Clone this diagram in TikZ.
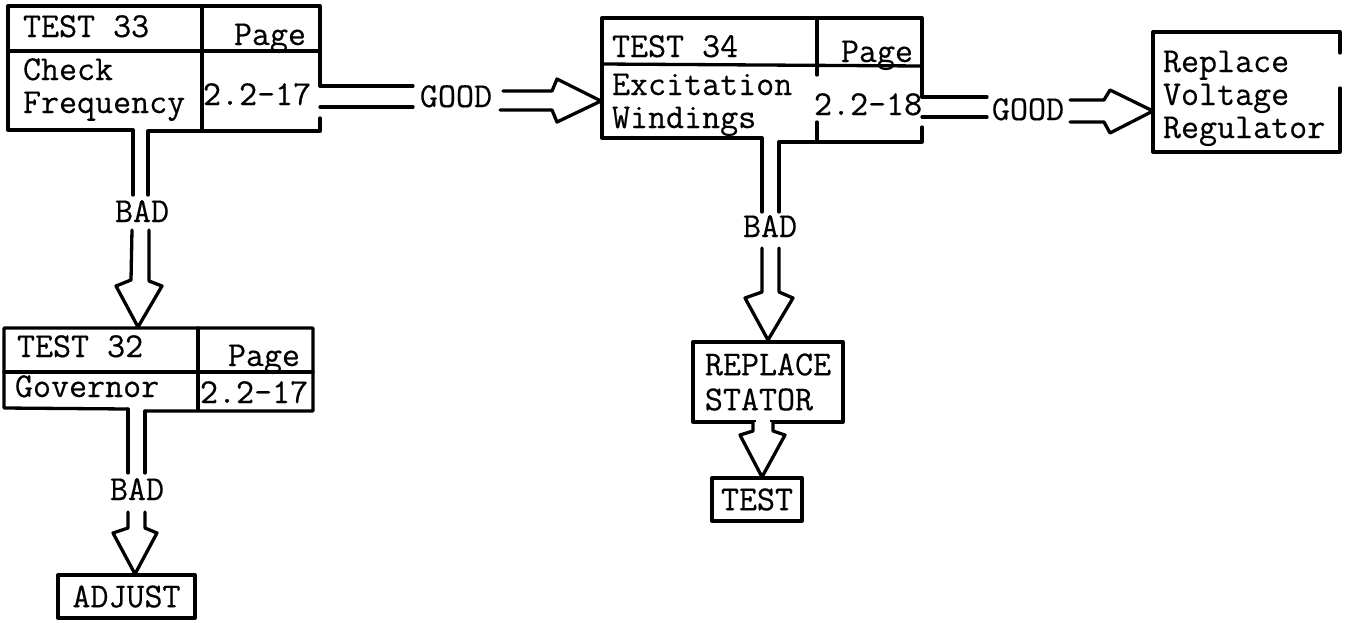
\documentclass[tikz,border=0pt]{standalone}
\usepackage{fontspec}
\newfontfamily\typewr{Latin Modern Mono}[FakeBold=0.4]
\begin{document}
\begin{tikzpicture}[x=1pt,y=-1pt,
  every node/.style={inner sep=0pt, outer sep=0pt, font=\typewr\fontsize{35}{35}\selectfont},
  txt/.style={anchor=base west},
  txtr/.style={anchor=base east},
  lbl/.style={anchor=base},
  ln/.style={line width=3.3pt, line cap=round, line join=round},
  simplebox/.style={draw, ln, align=left},
  head/.style={ln, fill=white}]
\useasboundingbox (0,0) rectangle (1353,622);

% ---------- TEST 33 ----------
\draw[ln] (320,86) -- (320,6) -- (8,6) -- (8,130) -- (133,130);
\draw[ln] (148,131) -- (320,131) -- (320,118);
\draw[ln] (202,6) -- (202,131);
\draw[ln] (8,51) -- (320,51);
\node[txt] (t33a) at (23,37) {TEST 33};
\node[txtr] (t33p) at (306,45) {Page};
\node[txt] (t33b) at (23,80) {Check};
\node[txt] (t33c) at (23,113) {Frequency};
\node[txt] (t33n) at (203,105) {2.2-17};

% ---------- GOOD arrow 1 ----------
\node[lbl] (good1) at (456,107) {GOOD};
\draw[ln] (320,86) -- (413,86);
\draw[ln] (320,107) -- (413,107);
\coordinate (tip1) at (601,101);
\draw[head] (503,91) -- (552,91) -- (557,79) -- (tip1) -- (557,122) -- (552,110) -- (500,110);

% ---------- TEST 34 ----------
\draw[ln] (922,97) -- (922,18) -- (602,18) -- (602,138) -- (762,138);
\draw[ln] (779,142) -- (922,142) -- (922,127);
\draw[ln] (817,18) -- (817,75);
\draw[ln] (817,122) -- (817,140);
\draw[ln] (602,64) -- (922,66);
\node[txt] (t34a) at (612,57) {TEST 34};
\node[txtr] (t34p) at (913,62) {Page};
\node[txt] (t34b) at (612,95) {Excitation};
\node[txt] (t34c) at (612,128) {Windings};
\node[txt] (t34n) at (814,115) {2.2-18};

% ---------- GOOD arrow 2 ----------
\node[lbl] (good2) at (1028,120) {GOOD};
\draw[ln] (922,97) -- (987,97);
\draw[ln] (922,117) -- (987,117);
\coordinate (tip2) at (1153,111);
\draw[head] (1070,100) -- (1104,100) -- (1110,90) -- (tip2) -- (1110,133) -- (1104,122) -- (1070,122);

% ---------- Replace Voltage Regulator ----------
\draw[ln] (1340,53) -- (1340,32) -- (1153,32) -- (1153,152) -- (1340,152) -- (1340,88);
\node[txt] (rv1) at (1163,72) {Replace};
\node[txt] (rv2) at (1163,105) {Voltage};
\node[txt] (rv3) at (1163,138) {Regulator};

% ---------- BAD arrow 1 ----------
\draw[ln] (133,130) -- (133,195);
\draw[ln] (148,131) -- (148,195);
\node[lbl] (bad1) at (142,222) {BAD};
\coordinate (tip3) at (138,327);
\draw[head] (132,230) -- (131,280) -- (116,286) -- (tip3) -- (162,286) -- (149,281) -- (149,230);

% ---------- TEST 32 ----------
\draw[ln] (128,409) -- (4,408) -- (4,328) -- (313,328) -- (313,411) -- (145,411);
\draw[ln] (198,328) -- (198,410);
\draw[ln] (4,372) -- (313,372);
\node[txt] (t32a) at (17,357) {TEST 32};
\node[txtr] (t32p) at (300,366) {Page};
\node[txt] (t32b) at (15,397) {Governor};
\node[txt] (t32n) at (200,403) {2.2-17};

% ---------- BAD arrow 3 ----------
\draw[ln] (128,409) -- (128,473);
\draw[ln] (145,411) -- (145,473);
\node[lbl] (bad3) at (137,500) {BAD};
\coordinate (tip4) at (135,574);
\draw[head] (128,512) -- (128,528) -- (113,533) -- (tip4) -- (157,533) -- (145,528) -- (145,512);

% ---------- ADJUST ----------
\node[simplebox, minimum width=137pt, minimum height=43pt] (adjust) at (126.5,596.5) {ADJUST};

% ---------- BAD arrow 2 ----------
\draw[ln] (762,138) -- (762,212);
\draw[ln] (779,142) -- (779,212);
\node[lbl] (bad2) at (770,237) {BAD};
\coordinate (tip5) at (768,340);
\draw[head] (762,248) -- (762,292) -- (745,298) -- (tip5) -- (793,298) -- (779,292) -- (779,248);

% ---------- REPLACE STATOR ----------
\node[simplebox, minimum width=150pt, minimum height=80pt] (stator) at (768,382) {REPLACE\\STATOR};

% ---------- arrow to TEST ----------
\fill[white] (756,418) rectangle (770,426);
\coordinate (tip6) at (762,477);
\draw[head] (753,422) -- (753,431) -- (740,435) -- (tip6) -- (785,435) -- (773,431) -- (773,422);

% ---------- TEST ----------
\node[simplebox, minimum width=90pt, minimum height=43pt] (test) at (757,499.5) {TEST};
\end{tikzpicture}
\end{document}
